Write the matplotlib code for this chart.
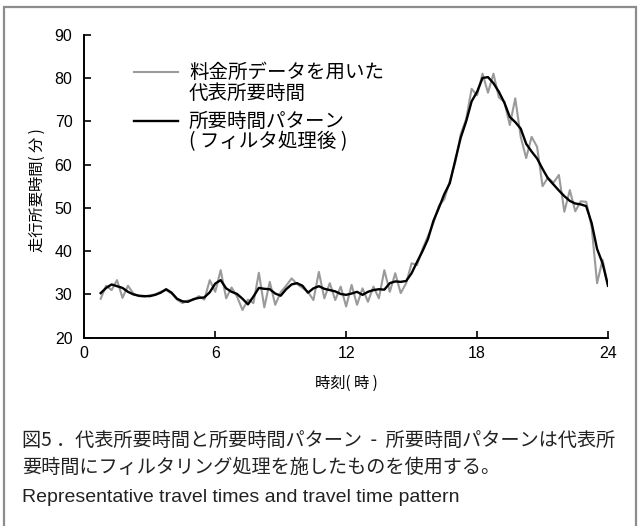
import matplotlib
matplotlib.use("Agg")
import matplotlib.pyplot as plt
import numpy as np
from matplotlib.patches import Rectangle

# quarter-hour samples, 0:45 to 24:00
hours = np.arange(0.75, 24.01, 0.25)

# representative travel time from toll-gate data (min)
raw_minutes = [
    29.0, 32.0, 31.0, 33.3, 29.2, 32.0, 30.2, 29.6, 29.5, 29.8,
    30.0, 30.6, 31.0, 30.2, 28.8, 28.0, 28.6, 28.7, 29.6, 28.8,
    33.3, 30.6, 35.6, 29.1, 31.6, 29.5, 26.4, 28.8, 28.0, 35.0,
    27.0, 32.9, 27.6, 30.5, 32.0, 33.7, 32.4, 31.5, 30.6, 28.7,
    35.2, 29.1, 32.6, 28.7, 31.8, 27.2, 32.2, 27.6, 31.4, 28.3,
    31.8, 29.1, 35.6, 30.6, 34.9, 30.3, 32.6, 37.2, 36.8, 40.5,
    43.5, 46.5, 50.5, 52.0, 56.2, 60.5, 67.0, 70.5, 77.5, 76.0,
    81.0, 76.6, 81.0, 75.5, 74.5, 69.1, 75.3, 66.4, 61.5, 66.4,
    64.1, 55.0, 57.0, 55.8, 57.6, 49.1, 54.1, 49.2, 51.5, 51.4,
    45.6, 32.6, 38.0, 32.0,
]

# filtered travel time pattern (min)
pattern_minutes = [
    30.3, 31.5, 32.3, 31.9, 31.5, 30.6, 30.0, 29.7, 29.6, 29.6,
    29.9, 30.4, 31.2, 30.4, 29.0, 28.4, 28.3, 28.9, 29.2, 29.3,
    30.5, 32.5, 33.3, 31.4, 30.6, 30.1, 29.0, 27.7, 29.5, 31.5,
    31.3, 31.2, 30.2, 29.7, 31.2, 32.3, 32.6, 32.0, 30.4, 31.4,
    31.9, 31.3, 31.0, 30.7, 30.1, 29.9, 30.2, 30.6, 29.9, 30.6,
    31.0, 31.2, 31.1, 32.6, 33.0, 32.9, 33.1, 34.9, 37.5, 40.0,
    42.8, 47.0, 50.0, 53.2, 55.7, 61.0, 66.2, 70.0, 74.6, 76.8,
    80.0, 80.2, 78.8, 76.8, 74.3, 71.0, 69.8, 68.3, 64.8, 63.0,
    61.4, 59.0, 56.8, 55.4, 54.0, 52.7, 51.6, 51.0, 50.8, 50.4,
    46.5, 40.5, 37.2, 32.0,
]

x_ticks = [0, 6, 12, 18, 24]
y_ticks = [20, 30, 40, 50, 60, 70, 80, 90]

legend_labels = [
    ("料金所データを用いた", "代表所要時間"),
    ("所要時間パターン", "( フィルタ処理後 )"),
]
caption_lines = [
    "図5 ．代表所要時間と所要時間パターン  -  所要時間パターンは代表所",
    "要時間にフィルタリング処理を施したものを使用する。",
]
caption_en = "Representative travel times and travel time pattern"

JP = ["Noto Sans CJK JP", "DejaVu Sans"]
W, H = 642, 526
GRAY = "#9a9a9a"


def fx(px):
    return px / W


def fy(py):
    return 1 - py / H


fig = plt.figure(figsize=(W / 100, H / 100), dpi=100)
ax = fig.add_axes([fx(84.3), fy(337.7), (608 - 84.3) / W, (337.7 - 34.7) / H])

ax.plot(hours, raw_minutes, color=GRAY, lw=1.5)
ax.plot(hours, pattern_minutes, color="black", lw=1.7)

ax.set_xlim(0, 24)
ax.set_ylim(20, 90)
ax.set_xticks(x_ticks)
ax.set_yticks(y_ticks)
for s in ("top", "right"):
    ax.spines[s].set_visible(False)
for s in ("left", "bottom"):
    ax.spines[s].set_linewidth(1.4)
ax.tick_params(axis="both", direction="in", length=5, width=1.2,
               labelsize=11.5)
ax.tick_params(axis="y", pad=8.5)
ax.tick_params(axis="x", pad=6)
for lab in ax.get_xticklabels() + ax.get_yticklabels():
    lab.set_fontfamily("Liberation Sans")

fig.text(fx(37), fy(190), "走行所要時間( 分 )", rotation=90,
         ha="center", va="center", fontsize=11, family=JP)
fig.text(fx(346), fy(383), "時刻( 時 )", ha="center", va="center",
         fontsize=11, family=JP)

# hand-drawn legend
for (first, second), color, lw, py in zip(legend_labels, [GRAY, "black"],
                                          [1.5, 1.7], [72, 121]):
    fig.add_artist(plt.Line2D([fx(134), fx(178)], [fy(py), fy(py)],
                              color=color, lw=lw))
    fig.text(fx(189), fy(py), first, ha="left", va="center",
             fontsize=14, family=JP)
    fig.text(fx(189), fy(py + 21), second, ha="left", va="center",
             fontsize=14, family=JP)

for line, py in zip(caption_lines, [440, 467]):
    fig.text(fx(22), fy(py), line, ha="left", va="center",
             fontsize=13.8, family=JP, color="#222222")
fig.text(fx(22), fy(497), caption_en, ha="left", va="center",
         fontsize=14, family="Liberation Sans", color="#222222")

fig.add_artist(Rectangle((fx(3.5), -0.05), fx(636 - 3.5), fy(7.5) + 0.05,
                         transform=fig.transFigure, fill=False,
                         ec="#8c8c8c", lw=1.6, clip_on=False))

fig.savefig("out.png", dpi=100)
